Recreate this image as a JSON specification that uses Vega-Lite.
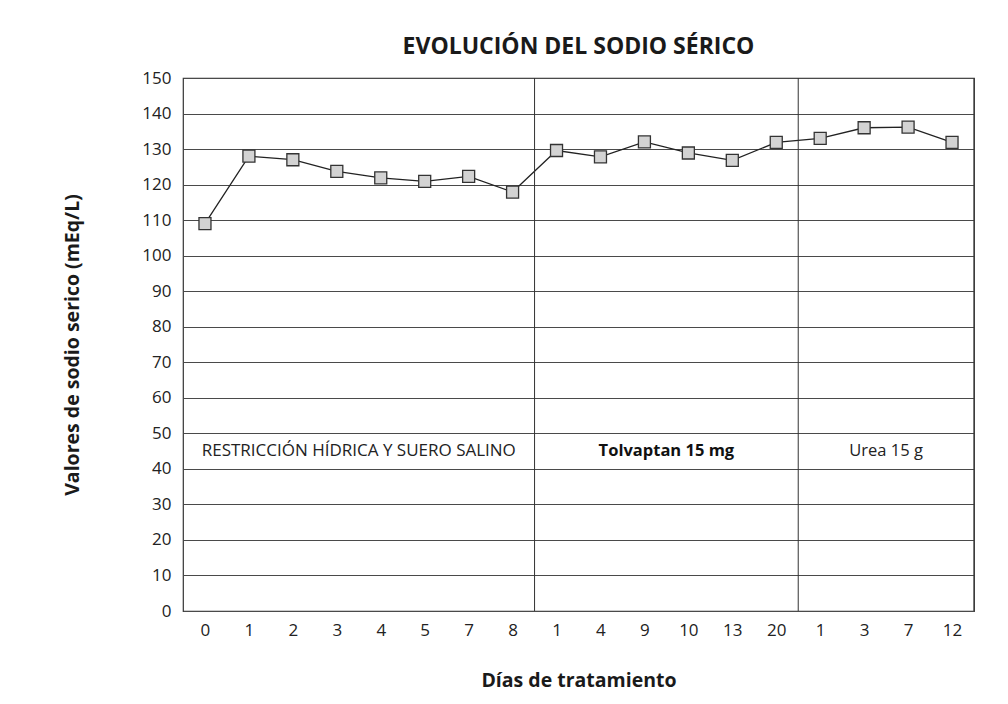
{
  "$schema": "https://vega.github.io/schema/vega-lite/v6.json",
  "autosize": {"type": "none"},
  "width": 791,
  "height": 533,
  "padding": {"top": 78, "left": 183, "right": 34, "bottom": 93},
  "background": "white",
  "title": {
    "text": "EVOLUCIÓN DEL SODIO SÉRICO",
    "font": "Open Sans",
    "fontSize": 23,
    "fontWeight": "bold",
    "color": "#1a1a1a",
    "anchor": "middle",
    "offset": 10
  },
  "datasets": {
    "serie": [
      {"dia": "0", "sodio": 109},
      {"dia": "1", "sodio": 128},
      {"dia": "2", "sodio": 127},
      {"dia": "3", "sodio": 123.7},
      {"dia": "4", "sodio": 121.9},
      {"dia": "5", "sodio": 120.9},
      {"dia": "7", "sodio": 122.3},
      {"dia": "8", "sodio": 117.9},
      {"dia": "1\u200b", "sodio": 129.6},
      {"dia": "4\u200b", "sodio": 127.8},
      {"dia": "9", "sodio": 132},
      {"dia": "10", "sodio": 128.9},
      {"dia": "13", "sodio": 126.8},
      {"dia": "20", "sodio": 131.9},
      {"dia": "1\u200b\u200b", "sodio": 133},
      {"dia": "3\u200b", "sodio": 136},
      {"dia": "7\u200b", "sodio": 136.2},
      {"dia": "12", "sodio": 131.9}
    ],
    "fases": [
      {"fase": "RESTRICCIÓN HÍDRICA Y SUERO SALINO", "centro": 4, "fin": 8},
      {"fase": "Tolvaptan 15 mg", "centro": 11, "fin": 14},
      {"fase": "Urea 15 g", "centro": 16, "fin": 18}
    ]
  },
  "layer": [
    {
      "data": {"name": "serie"},
      "encoding": {
        "x": {
          "field": "dia",
          "type": "ordinal",
          "sort": null,
          "scale": {"type": "point", "padding": 0.5},
          "axis": {
            "title": "Días de tratamiento",
            "labelAngle": 0,
            "labelPadding": 11,
            "titlePadding": 33,
            "grid": false,
            "ticks": false,
            "domain": false
          }
        },
        "y": {
          "field": "sodio",
          "type": "quantitative",
          "scale": {"domain": [0, 150], "nice": false},
          "axis": {
            "title": "Valores de sodio serico (mEq/L)",
            "tickCount": 15,
            "grid": true,
            "ticks": false,
            "domain": false,
            "labelPadding": 12,
            "titlePadding": 59
          }
        }
      },
      "layer": [
        {"mark": {"type": "line", "color": "#222222", "strokeWidth": 1.3}},
        {"mark": {"type": "point", "shape": "square", "size": 144, "filled": true, "fill": "#d3d3d3", "stroke": "#333333", "strokeWidth": 1.3, "opacity": 1}}
      ]
    },
    {
      "data": {"name": "fases"},
      "layer": [
        {
          "mark": {"type": "rule", "color": "#333333", "strokeWidth": 1},
          "encoding": {
            "x": {"field": "fin", "type": "quantitative", "scale": {"domain": [0, 18], "nice": false, "zero": true}, "axis": null}
          }
        },
        {
          "transform": [{"filter": "datum.fase == 'RESTRICCIÓN HÍDRICA Y SUERO SALINO'"}],
          "mark": {"type": "text", "font": "Open Sans", "fontSize": 17, "color": "#222222", "baseline": "middle", "align": "center"},
          "encoding": {
            "x": {"field": "centro", "type": "quantitative", "scale": {"domain": [0, 18], "nice": false, "zero": true}, "axis": null},
            "y": {"datum": 45, "type": "quantitative"},
            "text": {"field": "fase"}
          }
        },
        {
          "transform": [{"filter": "datum.fase == 'Urea 15 g'"}],
          "mark": {"type": "text", "font": "Open Sans", "fontSize": 16.5, "color": "#222222", "baseline": "middle", "align": "center"},
          "encoding": {
            "x": {"field": "centro", "type": "quantitative", "scale": {"domain": [0, 18], "nice": false, "zero": true}, "axis": null},
            "y": {"datum": 45, "type": "quantitative"},
            "text": {"field": "fase"}
          }
        },
        {
          "transform": [{"filter": "datum.fase == 'Tolvaptan 15 mg'"}],
          "mark": {"type": "text", "font": "Open Sans", "fontSize": 16.5, "fontWeight": "bold", "color": "#111111", "baseline": "middle", "align": "center"},
          "encoding": {
            "x": {"field": "centro", "type": "quantitative", "scale": {"domain": [0, 18], "nice": false, "zero": true}, "axis": null},
            "y": {"datum": 45, "type": "quantitative"},
            "text": {"field": "fase"}
          }
        }
      ]
    }
  ],
  "resolve": {"scale": {"x": "independent"}},
  "config": {
    "view": {"stroke": "#333333", "strokeWidth": 1.2},
    "axis": {
      "labelFont": "Open Sans",
      "labelFontSize": 17,
      "labelColor": "#222222",
      "titleFont": "Open Sans",
      "titleFontSize": 19.5,
      "titleFontWeight": "bold",
      "titleColor": "#1a1a1a",
      "gridColor": "#4a4a4a",
      "gridOpacity": 1,
      "gridWidth": 1
    }
  }
}
